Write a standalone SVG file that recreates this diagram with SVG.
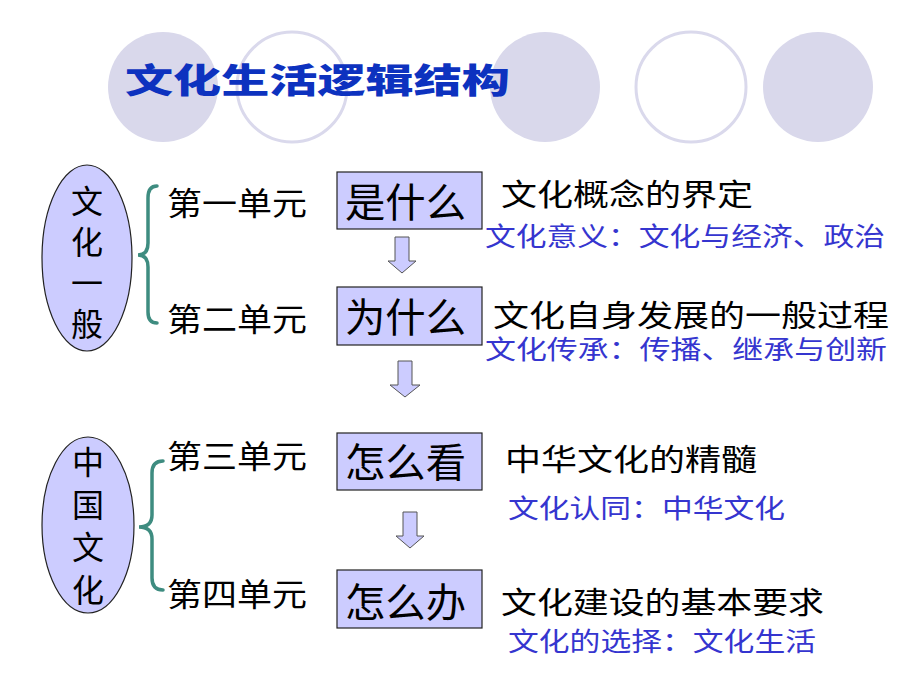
<svg xmlns="http://www.w3.org/2000/svg" width="920" height="690" viewBox="0 0 920 690">
<style>
.bg-fill{fill:#d9d8eb;}
.bg-ring{fill:#ffffff;stroke:#dad9ec;stroke-width:3;}
.title{font-family:"Noto Sans CJK SC","Noto Sans",sans-serif;font-weight:900;font-size:34px;fill:#0d32bf;}
.oval{fill:#ccccff;stroke:#222;stroke-width:1.2;}
.box{fill:#ccccff;stroke:#222;stroke-width:1.2;}
.arrow{fill:#ccccff;stroke:#555;stroke-width:1;}
.brace{fill:none;stroke:#3e8c80;stroke-width:3.5;stroke-linecap:round;}
.k{font-family:"Noto Sans CJK SC","Noto Sans",sans-serif;fill:#000;}
.b{font-family:"Noto Sans CJK SC","Noto Sans",sans-serif;fill:#3535cf;font-size:26px;}
.vt{font-size:32px;writing-mode:vertical-rl;}
</style>
<g id="background">
<circle class="bg-fill" cx="163" cy="87" r="55"/>
<circle class="bg-ring" cx="292" cy="87" r="55"/>
<circle class="bg-fill" cx="545" cy="87" r="55"/>
<circle class="bg-ring" cx="691" cy="87" r="55"/>
<circle class="bg-fill" cx="818" cy="87" r="55"/>
</g>
<g id="title"><text class="title" x="125" y="93" textLength="385" lengthAdjust="spacingAndGlyphs">文化生活逻辑结构</text></g>
<g id="group-general">
<ellipse class="oval" cx="87" cy="258" rx="45" ry="93"/>
<text class="k vt" x="87" y="185" letter-spacing="9">文化一般</text>
</g>
<g id="group-china">
<ellipse class="oval" cx="88" cy="525" rx="46" ry="88"/>
<text class="k vt" x="88" y="446" letter-spacing="10.5">中国文化</text>
</g>
<g id="connectors">
<path class="brace" d="M157,186 Q148,186 148,198 L148,243 Q148,255 138,255 Q148,255 148,267 L148,312 Q148,323 157,323"/>
<path class="brace" d="M163,461 Q152,461 152,473 L152,515 Q152,527 139,527 Q152,527 152,539 L152,578 Q152,590 163,590"/>
<path class="arrow" d="M395,237 H409 V261 H416 L402,273 L388,261 H395 Z"/>
<path class="arrow" d="M398,361 H412 V385 H420 L405,397 L390,385 H398 Z"/>
<path class="arrow" d="M403,512 H417 V536 H424 L410,548 L396,536 H403 Z"/>
</g>
<g id="unit1">
<text class="k" x="167" y="215" font-size="32" textLength="140" lengthAdjust="spacingAndGlyphs">第一单元</text>
<rect class="box" x="337" y="172" width="145" height="57"/>
<text class="k" x="345" y="217" font-size="40" textLength="121" lengthAdjust="spacingAndGlyphs">是什么</text>
<text class="k" x="501" y="205" font-size="30" textLength="252" lengthAdjust="spacingAndGlyphs">文化概念的界定</text>
<text class="b" x="485" y="246" textLength="400" lengthAdjust="spacingAndGlyphs">文化意义：文化与经济、政治</text>
</g>
<g id="unit2">
<text class="k" x="167" y="331" font-size="32" textLength="140" lengthAdjust="spacingAndGlyphs">第二单元</text>
<rect class="box" x="337" y="287" width="145" height="58"/>
<text class="k" x="345" y="332" font-size="40" textLength="121" lengthAdjust="spacingAndGlyphs">为什么</text>
<text class="k" x="493" y="326" font-size="30" textLength="396" lengthAdjust="spacingAndGlyphs">文化自身发展的一般过程</text>
<text class="b" x="485" y="359" font-size="26" textLength="402" lengthAdjust="spacingAndGlyphs">文化传承：传播、继承与创新</text>
</g>
<g id="unit3">
<text class="k" x="167" y="468" font-size="32" textLength="140" lengthAdjust="spacingAndGlyphs">第三单元</text>
<rect class="box" x="337" y="433" width="145" height="57"/>
<text class="k" x="345" y="477" font-size="40" textLength="121" lengthAdjust="spacingAndGlyphs">怎么看</text>
<text class="k" x="505" y="470" font-size="30" textLength="252" lengthAdjust="spacingAndGlyphs">中华文化的精髓</text>
<text class="b" x="508" y="518" textLength="277" lengthAdjust="spacingAndGlyphs">文化认同：中华文化</text>
</g>
<g id="unit4">
<text class="k" x="167" y="606" font-size="32" textLength="140" lengthAdjust="spacingAndGlyphs">第四单元</text>
<rect class="box" x="337" y="570" width="145" height="58"/>
<text class="k" x="345" y="617" font-size="40" textLength="121" lengthAdjust="spacingAndGlyphs">怎么办</text>
<text class="k" x="501" y="613" font-size="30" textLength="323" lengthAdjust="spacingAndGlyphs">文化建设的基本要求</text>
<text class="b" x="508" y="651" font-size="27" textLength="308" lengthAdjust="spacingAndGlyphs">文化的选择：文化生活</text>
</g>
</svg>
